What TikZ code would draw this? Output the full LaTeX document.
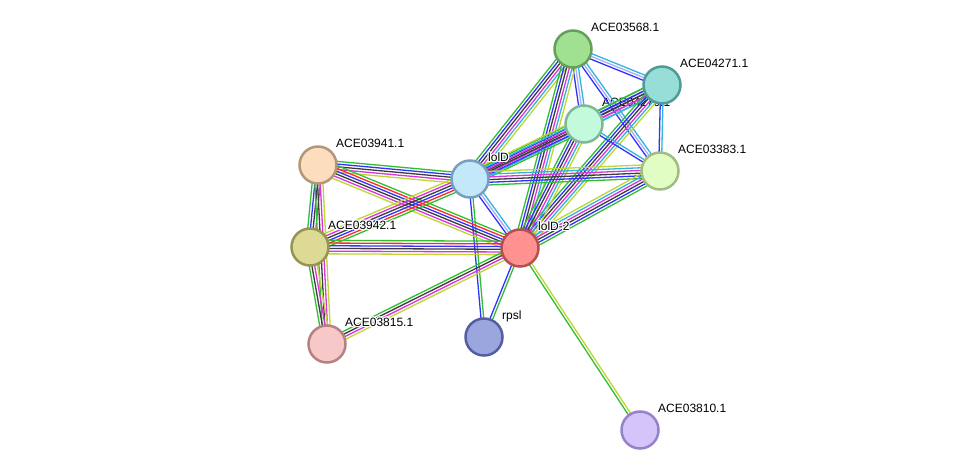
\documentclass[tikz,border=0pt]{standalone}
\usepackage{fontspec}
\setmainfont{Liberation Sans}
\usepackage{contour}
\contourlength{1.1pt}
\contournumber{16}
\usetikzlibrary{calc}
\pgfdeclarelayer{back}
\pgfdeclarelayer{lab}
\pgfdeclarelayer{bg}
\pgfsetlayers{back,lab,bg,main}
\definecolor{eG}{RGB}{50,190,50}
\definecolor{eR}{RGB}{255,40,40}
\definecolor{eB}{RGB}{50,50,255}
\definecolor{eL}{RGB}{170,170,255}
\definecolor{eK}{RGB}{60,60,60}
\definecolor{eM}{RGB}{220,50,220}
\definecolor{eC}{RGB}{50,180,220}
\definecolor{eY}{RGB}{190,215,50}
\definecolor{f3568}{RGB}{160,224,145}\definecolor{d3568}{RGB}{100,160,90}
\definecolor{f4271}{RGB}{150,222,215}\definecolor{d4271}{RGB}{80,155,150}
\definecolor{f4270}{RGB}{195,250,220}\definecolor{d4270}{RGB}{125,185,150}
\definecolor{f3383}{RGB}{225,253,195}\definecolor{d3383}{RGB}{160,190,130}
\definecolor{flolD}{RGB}{195,232,250}\definecolor{dlolD}{RGB}{120,160,190}
\definecolor{f3941}{RGB}{252,221,190}\definecolor{d3941}{RGB}{180,150,120}
\definecolor{f3942}{RGB}{220,218,148}\definecolor{d3942}{RGB}{150,148,80}
\definecolor{flolDb}{RGB}{255,145,145}\definecolor{dlolDb}{RGB}{180,80,80}
\definecolor{f3815}{RGB}{247,200,200}\definecolor{d3815}{RGB}{180,130,130}
\definecolor{frpsl}{RGB}{155,165,222}\definecolor{drpsl}{RGB}{85,95,160}
\definecolor{f3810}{RGB}{212,196,250}\definecolor{d3810}{RGB}{150,130,200}
\newcommand\bund[4]{%
  \foreach \c [count=\i] in {#4} {%
    \pgfmathsetmacro\off{(\i-(#3+1)/2)*2.7}%
    \draw[draw=\c, line width=1.3pt]
      ($(#1.center)!\off pt!90:(#2.center)$) -- ($(#2.center)!\off pt!-90:(#1.center)$);
  }}
\tikzset{
  prot/.style 2 args={circle, minimum size=37pt, inner sep=0pt, line width=2.5pt, fill=#1, draw=#2},
  lbl/.style={anchor=base west, inner sep=0pt, font=\fontsize{12}{14}\selectfont, text=black}
}
\begin{document}
\begin{tikzpicture}[x=1pt, y=-1pt]
\begin{pgfonlayer}{back}
\fill[white] (0,0) rectangle (976,475);
\end{pgfonlayer}
\useasboundingbox (0,0) rectangle (976,475);
% nodes
\node[prot={f3568}{d3568}] (n3568) at (573,49) {};
\node[prot={f4271}{d4271}] (n4271) at (662,85) {};
\node[prot={f4270}{d4270}] (n4270) at (584,124) {};
\node[prot={f3383}{d3383}] (n3383) at (660,171) {};
\node[prot={flolD}{dlolD}] (lolD) at (470,179) {};
\node[prot={f3941}{d3941}] (n3941) at (318,165) {};
\node[prot={f3942}{d3942}] (n3942) at (310,247) {};
\node[prot={flolDb}{dlolDb}] (lolD2) at (520,248) {};
\node[prot={f3815}{d3815}] (n3815) at (327,344) {};
\node[prot={frpsl}{drpsl}] (rpsl) at (484,337) {};
\node[prot={f3810}{d3810}] (n3810) at (640,430) {};
% labels
\node[lbl] (l3568) at ([shift={(18,-17.5)}]n3568.center) {\contour{white}{ACE03568.1}};
\node[lbl] (l4271) at ([shift={(18,-17.5)}]n4271.center) {\contour{white}{ACE04271.1}};
\begin{pgfonlayer}{lab}
\node[lbl] (l4270) at ([shift={(18,-17.5)}]n4270.center) {ACE04270.1};
\end{pgfonlayer}
\node[lbl] (l3383) at ([shift={(18,-17.5)}]n3383.center) {\contour{white}{ACE03383.1}};
\node[lbl] (llolD) at ([shift={(18,-17.5)}]lolD.center) {\contour{white}{lolD}};
\node[lbl] (l3941) at ([shift={(18,-17.5)}]n3941.center) {\contour{white}{ACE03941.1}};
\node[lbl] (l3942) at ([shift={(18,-17.5)}]n3942.center) {\contour{white}{ACE03942.1}};
\node[lbl] (llolD2) at ([shift={(18,-17.5)}]lolD2.center) {\contour{white}{lolD-2}};
\node[lbl] (l3815) at ([shift={(18,-17.5)}]n3815.center) {\contour{white}{ACE03815.1}};
\node[lbl] (lrpsl) at ([shift={(18,-17.5)}]rpsl.center) {\contour{white}{rpsl}};
\node[lbl] (l3810) at ([shift={(18,-17.5)}]n3810.center) {\contour{white}{ACE03810.1}};
% edges
\begin{pgfonlayer}{bg}
\bund{n3568}{n4271}{3}{eB,eL,eC}
\bund{n3568}{n4270}{3}{eB,eL,eC}
\bund{n3568}{n3383}{3}{eB,eL,eC}
\bund{n3568}{lolD}{6}{eG,eB,eK,eM,eC,eY}
\bund{n3568}{lolD2}{6}{eG,eB,eK,eM,eC,eY}
\bund{n4271}{n4270}{5}{eG,eB,eK,eM,eC}
\bund{n4271}{n3383}{2}{eB,eC}
\bund{n4271}{lolD}{5}{eG,eB,eK,eM,eC}
\bund{n4271}{lolD2}{6}{eG,eB,eK,eM,eC,eY}
\bund{n4270}{n3383}{2}{eB,eC}
\bund{lolD}{n4270}{6}{eG,eB,eK,eM,eC,eY}
\bund{n4270}{lolD2}{6}{eG,eB,eK,eM,eC,eY}
\bund{lolD}{n3383}{6}{eG,eB,eK,eM,eC,eY}
\bund{lolD2}{n3383}{6}{eG,eB,eK,eM,eC,eY}
\bund{lolD}{lolD2}{3}{eB,eL,eC}
\bund{lolD}{rpsl}{2}{eB,eG}
\bund{rpsl}{lolD2}{2}{eG,eB}
\bund{lolD2}{n3810}{2}{eG,eY}
\bund{lolD}{n3941}{5}{eG,eB,eK,eM,eY}
\bund{lolD2}{n3941}{6}{eG,eR,eB,eK,eM,eY}
\bund{n3942}{lolD}{6}{eG,eR,eB,eK,eM,eY}
\bund{lolD2}{n3942}{6}{eG,eR,eB,eK,eM,eY}
\bund{n3941}{n3942}{4}{eG,eB,eK,eM}
\bund{n3941}{n3815}{4}{eG,eK,eM,eY}
\bund{n3942}{n3815}{4}{eG,eK,eM,eY}
\bund{lolD2}{n3815}{4}{eG,eK,eM,eY}
\end{pgfonlayer}
\end{tikzpicture}
\end{document}
